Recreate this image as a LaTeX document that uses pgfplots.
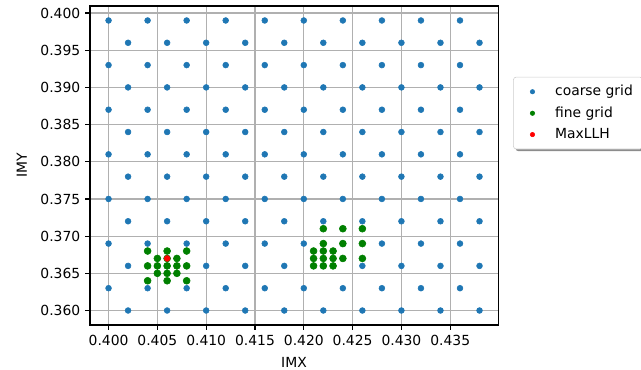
\documentclass[border=0pt]{standalone}
\usepackage{fontspec}
\setmainfont{DejaVu Sans}
\usepackage{pgfplots}
\pgfplotsset{compat=1.18}
\usetikzlibrary{shadows}

\definecolor{mplblue}{HTML}{1F77B4}
\definecolor{mplgreen}{HTML}{008000}
\definecolor{mplred}{HTML}{FF0000}
\definecolor{gridgray}{HTML}{B0B0B0}

\begin{document}
\begin{tikzpicture}
\begin{axis}[
  name=ax,
  scale only axis,
  width=293.8pt, height=229.7pt,
  xmin=0.3981, xmax=0.4399,
  ymin=0.35805, ymax=0.40095,
  xtick={0.400,0.405,0.410,0.415,0.420,0.425,0.430,0.435},
  ytick={0.360,0.365,0.370,0.375,0.380,0.385,0.390,0.395,0.400},
  scaled ticks=false,
  /pgf/number format/.cd, fixed, fixed zerofill, precision=3, assume math mode=true,
  /pgfplots/.cd,
  tick label style={font=\fontsize{10}{12}\selectfont},
  label style={font=\fontsize{10}{12}\selectfont},
  xlabel={IMX}, ylabel={IMY},
  xlabel style={yshift=-2pt},
  ylabel style={yshift=3pt},
  grid=major,
  major grid style={gridgray, line width=0.8pt},
  axis line style={line width=0.8pt},
  tick style={black, line width=0.8pt},
  tick align=outside,
  major tick length=3.5pt,
  xtick pos=bottom, ytick pos=left,
  legend style={
    at={(1.037,0.778)}, anchor=north west,
    draw=black!20, rounded corners=2pt, fill=white,
    drop shadow={shadow xshift=1.5pt, shadow yshift=-1.5pt, fill=black!45, opacity=1},
    font=\fontsize{10}{12}\selectfont,
    row sep=2.4pt, inner xsep=5pt, inner ysep=4pt,
    cells={anchor=west},
  },
  legend image code/.code={%
    \path (0pt,0pt) (23pt,0pt);
    \draw[#1, mark size=1.6pt] plot coordinates {(8.7pt,0pt)};},
]
% coarse grid: staggered rows every 0.003 in IMY
\addplot[only marks, mark=*, mark size=2.1pt, draw=none, mark options={draw=mplblue, fill=mplblue}] coordinates {
(0.400,0.399) (0.404,0.399) (0.408,0.399) (0.412,0.399) (0.416,0.399) (0.420,0.399) (0.424,0.399) (0.428,0.399) (0.432,0.399) (0.436,0.399)
(0.402,0.396) (0.406,0.396) (0.410,0.396) (0.414,0.396) (0.418,0.396) (0.422,0.396) (0.426,0.396) (0.430,0.396) (0.434,0.396) (0.438,0.396)
(0.400,0.393) (0.404,0.393) (0.408,0.393) (0.412,0.393) (0.416,0.393) (0.420,0.393) (0.424,0.393) (0.428,0.393) (0.432,0.393) (0.436,0.393)
(0.402,0.390) (0.406,0.390) (0.410,0.390) (0.414,0.390) (0.418,0.390) (0.422,0.390) (0.426,0.390) (0.430,0.390) (0.434,0.390) (0.438,0.390)
(0.400,0.387) (0.404,0.387) (0.408,0.387) (0.412,0.387) (0.416,0.387) (0.420,0.387) (0.424,0.387) (0.428,0.387) (0.432,0.387) (0.436,0.387)
(0.402,0.384) (0.406,0.384) (0.410,0.384) (0.414,0.384) (0.418,0.384) (0.422,0.384) (0.426,0.384) (0.430,0.384) (0.434,0.384) (0.438,0.384)
(0.400,0.381) (0.404,0.381) (0.408,0.381) (0.412,0.381) (0.416,0.381) (0.420,0.381) (0.424,0.381) (0.428,0.381) (0.432,0.381) (0.436,0.381)
(0.402,0.378) (0.406,0.378) (0.410,0.378) (0.414,0.378) (0.418,0.378) (0.422,0.378) (0.426,0.378) (0.430,0.378) (0.434,0.378) (0.438,0.378)
(0.400,0.375) (0.404,0.375) (0.408,0.375) (0.412,0.375) (0.416,0.375) (0.420,0.375) (0.424,0.375) (0.428,0.375) (0.432,0.375) (0.436,0.375)
(0.402,0.372) (0.406,0.372) (0.410,0.372) (0.414,0.372) (0.418,0.372) (0.422,0.372) (0.426,0.372) (0.430,0.372) (0.434,0.372) (0.438,0.372)
(0.400,0.369) (0.404,0.369) (0.408,0.369) (0.412,0.369) (0.416,0.369) (0.420,0.369) (0.424,0.369) (0.428,0.369) (0.432,0.369) (0.436,0.369)
(0.402,0.366) (0.406,0.366) (0.410,0.366) (0.414,0.366) (0.418,0.366) (0.422,0.366) (0.426,0.366) (0.430,0.366) (0.434,0.366) (0.438,0.366)
(0.400,0.363) (0.404,0.363) (0.408,0.363) (0.412,0.363) (0.416,0.363) (0.420,0.363) (0.424,0.363) (0.428,0.363) (0.432,0.363) (0.436,0.363)
(0.402,0.360) (0.406,0.360) (0.410,0.360) (0.414,0.360) (0.418,0.360) (0.422,0.360) (0.426,0.360) (0.430,0.360) (0.434,0.360) (0.438,0.360)
};
\addlegendentry{coarse grid}
% fine grid around the two candidate regions
\addplot[only marks, mark=*, mark size=2.5pt, draw=none, mark options={draw=mplgreen, fill=mplgreen}] coordinates {
(0.404,0.368) (0.406,0.368) (0.408,0.368)
(0.405,0.367) (0.406,0.367) (0.407,0.367)
(0.404,0.366) (0.405,0.366) (0.406,0.366) (0.407,0.366) (0.408,0.366)
(0.405,0.365) (0.406,0.365) (0.407,0.365)
(0.404,0.364) (0.406,0.364) (0.408,0.364)
(0.422,0.371) (0.424,0.371) (0.426,0.371)
(0.422,0.369) (0.424,0.369) (0.426,0.369)
(0.421,0.368) (0.422,0.368) (0.423,0.368)
(0.421,0.367) (0.422,0.367) (0.423,0.367) (0.424,0.367) (0.426,0.367)
(0.421,0.366) (0.422,0.366) (0.423,0.366)
};
\addlegendentry{fine grid}
% maximum likelihood point
\addplot[only marks, mark=*, mark size=2.1pt, draw=none, mark options={draw=mplred, fill=mplred}] coordinates {
(0.406,0.367)
};
\addlegendentry{MaxLLH}
\end{axis}
\pgfresetboundingbox
\path ([shift={(-64.8pt,-31.7pt)}]ax.south west) rectangle ([shift={(396.7pt,234.0pt)}]ax.south west);
\end{tikzpicture}
\end{document}
